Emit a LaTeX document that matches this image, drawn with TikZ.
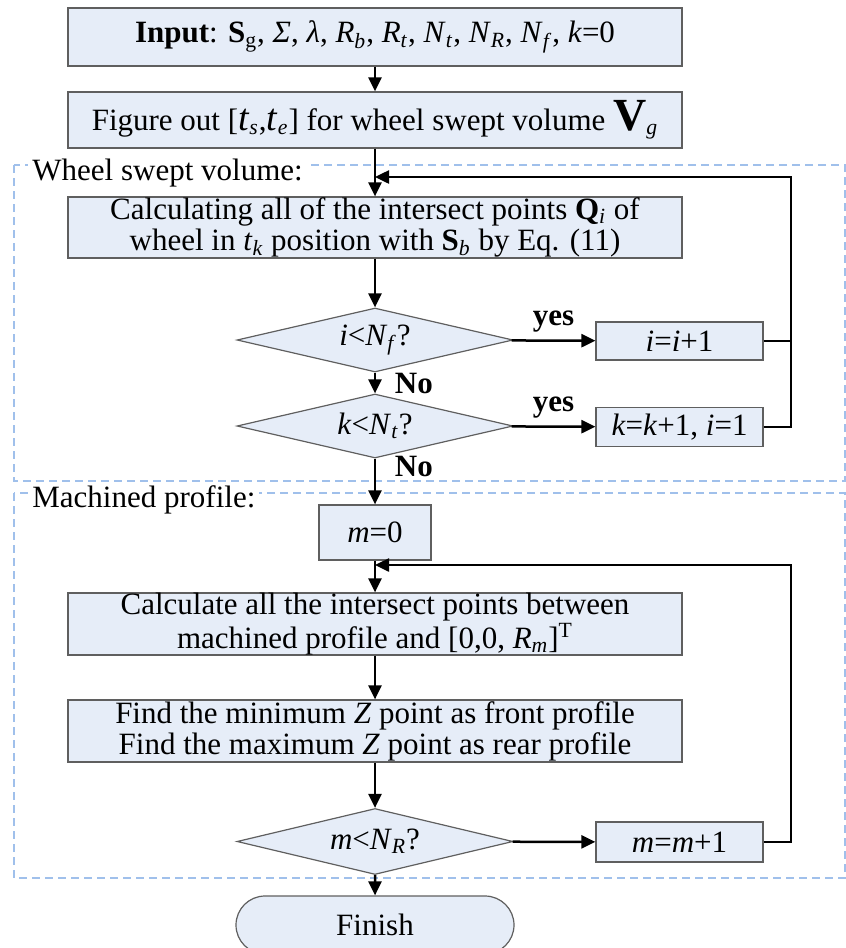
\documentclass[tikz,border=0pt]{standalone}
\usepackage{fontspec}
\setmainfont{Liberation Serif}
\usepackage{tikz}
\usetikzlibrary{arrows.meta, shapes.geometric, shapes.misc}

\definecolor{fondocaja}{RGB}{230,237,248}
\definecolor{bordecaja}{RGB}{95,95,95}
\definecolor{marcoazul}{RGB}{160,192,235}

\newcommand{\iv}[1]{\textit{#1}}
\newcommand{\bajo}[1]{\textsubscript{#1}}
\newcommand{\grande}[1]{{\fontsize{19}{19}\selectfont #1}}

\begin{document}
\begin{tikzpicture}[x=0.5pt, y=-0.5pt,
    >={Triangle[length=7pt, width=6.5pt]},
    every node/.style={font=\fontsize{15.5}{15.6}\selectfont},
    caja/.style={draw=bordecaja, fill=fondocaja, line width=0.6pt,
        inner sep=0pt, align=center},
    rombo/.style={diamond, draw=bordecaja, fill=fondocaja, line width=0.6pt,
        inner sep=0pt, shape aspect=4.3, minimum width=138pt, minimum height=32pt},
    flecha/.style={->, line width=1.25pt},
    marco/.style={draw=marcoazul, line width=0.6pt, dash pattern=on 4pt off 2.5pt},
    etiqueta/.style={fill=white, inner sep=2pt, anchor=west}]

    \useasboundingbox (0,0) rectangle (846,948);

    % Marcos discontinuos
    \draw[marco] (14,165) rectangle (845,481);
    \draw[marco] (14,493) rectangle (845,878);
    \node[etiqueta] (lbl1) at (28,173) {Wheel swept volume:};
    \node[etiqueta] (lbl2) at (28,500) {Machined profile:};

    % Cajas principales
    \node[caja, minimum width=307pt, minimum height=29pt] (entrada) at (375,37)
        {\textbf{Input}: \textbf{S}\bajo{g}, \iv{Σ}, \iv{λ}, \iv{R}\bajo{\iv{b}},
         \iv{R}\bajo{\iv{t}}, \iv{N}\bajo{\iv{t}}, \iv{N}\bajo{\iv{R}},
         \iv{N}\bajo{\iv{f}}, \iv{k}=0};
    \node[caja, minimum width=307pt, minimum height=28pt] (figura) at (375,120)
        {Figure out [\grande{\iv{t}}\bajo{\iv{s}},\grande{\iv{t}}\bajo{\iv{e}}]
         for wheel swept volume {\fontsize{23}{23}\selectfont\textbf{V}}\bajo{\iv{g}}};
    \node[caja, minimum width=307pt, minimum height=30.5pt] (calculo) at (375,227.5)
        {Calculating all of the intersect points \textbf{Q}\bajo{\iv{i}} of\\
         wheel in \iv{t}\bajo{\iv{k}} position with \textbf{S}\bajo{\iv{b}} by Eq. (11)};

    % Decisiones del primer bucle
    \node[rombo] (rombo1) at (375,340) {\iv{i}<\iv{N}\bajo{\iv{f}}?};
    \node[rombo] (rombo2) at (375,426) {\iv{k}<\iv{N}\bajo{\iv{t}}?};
    \node[caja, minimum width=83.5pt, minimum height=19pt] (inci) at (679.5,341)
        {\iv{i}=\iv{i}+1};
    \node[caja, minimum width=83.5pt, minimum height=19.5pt] (inck) at (679.5,427)
        {\iv{k}=\iv{k}+1, \iv{i}=1};

    % Perfil mecanizado
    \node[caja, minimum width=56pt, minimum height=27.5pt] (m0) at (375,532.5)
        {\iv{m}=0};
    \node[caja, minimum width=307pt, minimum height=31pt] (calculo2) at (375,624)
        {Calculate all the intersect points between\\
         machined profile and [0,0, \iv{R}\bajo{\iv{m}}]\textsuperscript{T}};
    \node[caja, minimum width=307pt, minimum height=31pt] (buscar) at (375,731)
        {Find the minimum \iv{Z} point as front profile\\
         Find the maximum \iv{Z} point as rear profile};
    \node[rombo, minimum height=33pt] (rombo3) at (375,841.5)
        {\iv{m}<\iv{N}\bajo{\iv{R}}?};
    \node[caja, minimum width=83.5pt, minimum height=20pt] (incm) at (679.5,842)
        {\iv{m}=\iv{m}+1};
    \node[rounded rectangle, draw=bordecaja, fill=fondocaja, line width=0.6pt,
        minimum width=139pt, minimum height=29pt, inner sep=0pt] (fin) at (375,925)
        {Finish};

    % Puntos de retorno
    \coordinate (esq1) at (791,177);
    \coordinate (une1) at (375,177);
    \coordinate (esq2) at (791,565);
    \coordinate (une2) at (375,565);

    % Flechas verticales
    \draw[flecha] (entrada) -- (figura);
    \draw[flecha] (figura) -- (calculo);
    \draw[flecha] (calculo) -- (rombo1);
    \draw[flecha] (rombo1) -- (rombo2)
        node[midway, right=6pt] {\textbf{No}};
    \draw[flecha] (rombo2) -- (m0)
        node[pos=0.17, right=6pt] {\textbf{No}};
    \draw[flecha] (m0) -- (calculo2);
    \draw[flecha] (calculo2) -- (buscar);
    \draw[flecha] (buscar) -- (rombo3);
    \draw[flecha] (rombo3) -- (fin);

    % Ramas "yes"
    \draw[flecha] (rombo1) -- (inci)
        node[midway, above=0pt] {\textbf{yes}};
    \draw[flecha] (rombo2) -- (inck)
        node[midway, above=0pt] {\textbf{yes}};
    \draw[flecha] (rombo3) -- (incm);

    % Bucles de retorno
    \draw[line width=1.25pt] (inci.east) -- (inci.east -| esq1);
    \draw[flecha] (inck.east) -| (esq1) -- (une1);
    \draw[flecha] (incm.east) -| (esq2) -- (une2);
\end{tikzpicture}
\end{document}
